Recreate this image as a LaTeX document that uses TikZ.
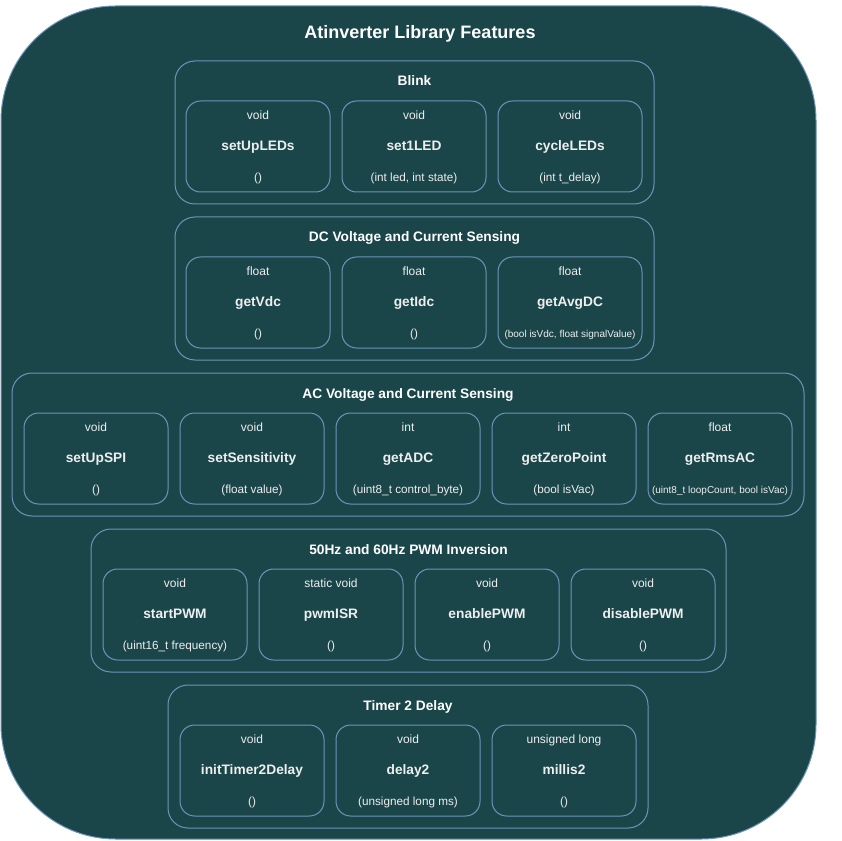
\documentclass[tikz,border=0pt]{standalone}
\usepackage{fontspec}
\setmainfont{Liberation Sans}
\definecolor{bg}{HTML}{1A464A}
\definecolor{ln}{HTML}{6C94BA}
\definecolor{tx}{HTML}{EEEEEE}
\tikzset{
 outerbox/.style={draw=ln, fill=bg, line width=0.75pt, rounded corners=86pt, minimum width=611.25pt, minimum height=624.75pt, inner sep=0pt},
 groupbox/.style={draw=ln, line width=0.75pt, rounded corners=15pt, inner sep=0pt, minimum height=107.25pt},
 funcbox/.style={draw=ln, line width=0.75pt, rounded corners=11pt, minimum width=108pt, minimum height=68.25pt, inner sep=0pt},
 ttl/.style={text=white, inner sep=0pt, anchor=base, font=\bfseries\fontsize{13.5}{16}\selectfont},
 gttl/.style={text=white, inner sep=0pt, anchor=base, font=\bfseries\fontsize{10.3}{12}\selectfont},
 typtext/.style={text=tx, inner sep=0pt, anchor=base, font=\fontsize{9}{11}\selectfont},
 nametext/.style={text=tx, inner sep=0pt, anchor=base, font=\bfseries\fontsize{10.3}{12}\selectfont},
 argtext/.style={text=tx, inner sep=0pt, anchor=base, font=\fontsize{8.8}{10}\selectfont},
 smallarg/.style={text=tx, inner sep=0pt, anchor=base, font=\fontsize{7.5}{9}\selectfont},
}
\newcommand\fnbox[7]{%
 \node[funcbox] (#1) at (#2+72,#3+45.5) {};
 \node[typtext] (#1-t) at (#2+72,#3+18.5) {#4};
 \node[nametext] (#1-n) at (#2+72,#3+49.5) {#5};
 \node[#7] (#1-a) at (#2+72,#3+80.5) {#6};
}
\begin{document}
\begin{tikzpicture}[x=0.75pt,y=-0.75pt]
\useasboundingbox (0,0) rectangle (841,841);
\node[outerbox] (outer) at (408.5,422.5) {};
\node[ttl] (title) at (420,38.5) {Atinverter Library Features};
% Blink
\node[groupbox, minimum width=359.25pt] (blink) at (414.5,132.5) {};
\node[gttl] (blink-t) at (414.5,86) {Blink};
\fnbox{setupleds}{186}{101}{void}{setUpLEDs}{()}{argtext}
\fnbox{setled}{342}{101}{void}{set1LED}{(int led, int state)}{argtext}
\fnbox{cycleleds}{498}{101}{void}{cycleLEDs}{(int t\_delay)}{argtext}
% DC
\node[groupbox, minimum width=359.25pt] (dc) at (414.5,288.5) {};
\node[gttl] (dc-t) at (414.5,242) {DC Voltage and Current Sensing};
\fnbox{getvdc}{186}{257}{float}{getVdc}{()}{argtext}
\fnbox{getidc}{342}{257}{float}{getIdc}{()}{argtext}
\fnbox{getavgdc}{498}{257}{float}{getAvgDC}{(bool isVdc, float signalValue)}{smallarg}
% AC
\node[groupbox, minimum width=594pt] (ac) at (408,444.5) {};
\node[gttl] (ac-t) at (408,398) {AC Voltage and Current Sensing};
\fnbox{setupspi}{24}{413}{void}{setUpSPI}{()}{argtext}
\fnbox{setsens}{180}{413}{void}{setSensitivity}{(float value)}{argtext}
\fnbox{getadc}{336}{413}{int}{getADC}{(uint8\_t control\_byte)}{argtext}
\fnbox{getzero}{492}{413}{int}{getZeroPoint}{(bool isVac)}{argtext}
\fnbox{getrms}{648}{413}{float}{getRmsAC}{(uint8\_t loopCount, bool isVac)}{smallarg}
% PWM
\node[groupbox, minimum width=476.25pt] (pwm) at (408.5,600.5) {};
\node[gttl] (pwm-t) at (408.5,554) {50Hz and 60Hz PWM Inversion};
\fnbox{startpwm}{103}{569}{void}{startPWM}{(uint16\_t frequency)}{argtext}
\fnbox{pwmisr}{259}{569}{static void}{pwmISR}{()}{argtext}
\fnbox{enablepwm}{415}{569}{void}{enablePWM}{()}{argtext}
\fnbox{disablepwm}{571}{569}{void}{disablePWM}{()}{argtext}
% Timer
\node[groupbox, minimum width=360pt] (timer) at (408,756.5) {};
\node[gttl] (timer-t) at (408,710) {Timer 2 Delay};
\fnbox{inittimer}{180}{725}{void}{initTimer2Delay}{()}{argtext}
\fnbox{delaytwo}{336}{725}{void}{delay2}{(unsigned long ms)}{argtext}
\fnbox{millistwo}{492}{725}{unsigned long}{millis2}{()}{argtext}
\end{tikzpicture}
\end{document}
